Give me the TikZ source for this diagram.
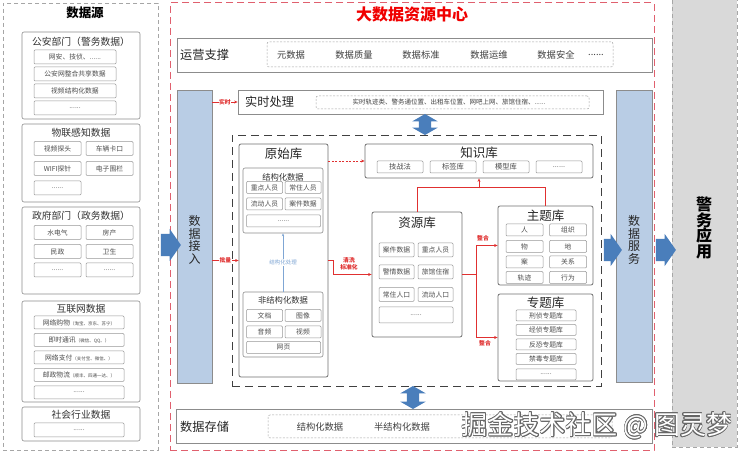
\documentclass[tikz,border=0pt]{standalone}
\usepackage{fontspec}
\setmainfont{Noto Sans CJK SC}
\usepackage[copies]{contour}
\contourlength{0.6pt}
\usetikzlibrary{shapes.arrows, arrows.meta, positioning, calc, fit}
\definecolor{boxG}{HTML}{8C8C8C}
\definecolor{panelG}{HTML}{A6A6A6}
\definecolor{appG}{HTML}{D9D9D9}
\definecolor{barB}{HTML}{B9CDE5}
\definecolor{arrB}{HTML}{4A7EBB}
\definecolor{redL}{HTML}{E03030}
\definecolor{redD}{HTML}{E0606E}
\definecolor{redT}{HTML}{F00000}
\definecolor{procB}{HTML}{7FA6D4}
\newcommand{\tinynote}[1]{{\fontsize{4.5}{5}\selectfont #1}}

\begin{document}
\begin{tikzpicture}[
  x=1pt, y=-1pt,
  panel/.style={draw=panelG, dashed, dash pattern=on 4pt off 3pt,
    line width=0.6pt, inner sep=0pt},
  grp/.style={draw=boxG, fill=white, rounded corners=2pt,
    line width=0.6pt, inner sep=0pt},
  grptitle/.style={font=\fontsize{9.8}{10}\selectfont, text=black!80, inner sep=0pt},
  item/.style={draw=boxG!90, fill=white, rounded corners=1pt, line width=0.5pt,
    minimum height=#1, inner sep=0pt,
    font=\fontsize{6.8}{7}\selectfont, text=black!70},
  item/.default=14pt,
  rowbox/.style={draw=boxG, line width=0.8pt, inner sep=0pt},
  innerdash/.style={draw=boxG!80, dashed, dash pattern=on 2pt off 1.5pt,
    rounded corners=2pt, line width=0.5pt, inner sep=0pt},
  rowlabel/.style={font=\fontsize{12.2}{12}\selectfont, anchor=west,
    inner sep=0pt, text=black!85},
  opitem/.style={font=\fontsize{9.3}{10}\selectfont, text=black!75, inner sep=0pt},
  bar/.style={draw=boxG, fill=barB, line width=0.6pt, inner sep=0pt},
  vtext/.style={align=center, font=\fontsize{12}{12.5}\selectfont,
    text=black!85, inner sep=0pt},
  bigarr/.style={single arrow, fill=arrB, draw=none, inner xsep=0pt,
    inner ysep=11pt, minimum height=20pt, single arrow head extend=5pt,
    single arrow tip angle=110},
  dblarr/.style={double arrow, fill=arrB, draw=none, inner xsep=0pt,
    inner ysep=6pt, minimum height=22pt, double arrow head extend=6.5pt,
    double arrow tip angle=120, rotate=90},
  lib/.style={draw=boxG!80!black, fill=white, rounded corners=2pt,
    line width=0.8pt, inner sep=0pt},
  libtitle/.style={font=\fontsize{12.5}{13}\selectfont, text=black!85, inner sep=0pt},
  subtitle/.style={font=\fontsize{8.3}{9}\selectfont, text=black!80, inner sep=0pt},
  redarr/.style={-{Stealth[length=3.5pt, width=3pt]}, redL, line width=0.6pt},
  redline/.style={redL, line width=0.6pt},
  redlbl/.style={text=redL, font=\fontsize{5.8}{6.5}\selectfont\bfseries,
    inner sep=0.6pt, fill=white, align=center}
]
\useasboundingbox[fill=white] (0,0) rectangle (740,454);

%% ═══ 数据源 ═══
\node[panel, fit={(3,3) (158,450)}] (src) {};
\node[font=\fontsize{12.5}{13}\selectfont\bfseries, inner sep=0pt] (srcT) at (85,13) {数据源};

\node[grp, fit={(22,32) (140,119)}] (gaGrp) {};
\node[grptitle] (gaT) at (81,42) {公安部门（警务数据）};
\node[item, minimum width=82pt] (ga1) at (75,57) {网安、技侦、......};
\node[item, minimum width=82pt, below=2.5pt of ga1] (ga2) {公安网整合共享数据};
\node[item, minimum width=82pt, below=2.5pt of ga2] (ga3) {视频结构化数据};
\node[item, minimum width=82pt, below=2.5pt of ga3] (ga4) {......};

\node[grp, fit={(22,124) (140,202)}] (iotGrp) {};
\node[grptitle] (iotT) at (81,133) {物联感知数据};
\node[item, minimum width=47pt] (iot1) at (57.5,148.5) {视频探头};
\node[item, minimum width=47pt, right=4.5pt of iot1] (iot2) {车辆卡口};
\node[item, minimum width=47pt, below=5.5pt of iot1] (iot3) {WIFI探针};
\node[item, minimum width=47pt, right=4.5pt of iot3] (iot4) {电子围栏};
\node[item, minimum width=47pt, below=5pt of iot3] (iot5) {......};

\node[grp, fit={(22,207) (140,294)}] (govGrp) {};
\node[grptitle] (govT) at (81,216) {政府部门（政务数据）};
\node[item, minimum width=47pt] (gov1) at (57.5,232.5) {水电气};
\node[item, minimum width=47pt, right=4.5pt of gov1] (gov2) {房产};
\node[item, minimum width=47pt, below=4.5pt of gov1] (gov3) {民政};
\node[item, minimum width=47pt, right=4.5pt of gov3] (gov4) {卫生};
\node[item, minimum width=47pt, below=4pt of gov3] (gov5) {......};
\node[item, minimum width=47pt, right=4.5pt of gov5] (gov6) {......};

\node[grp, fit={(22,301) (140,402)}] (netGrp) {};
\node[grptitle] (netT) at (81,309) {互联网数据};
\node[item=13pt, minimum width=90pt] (net1) at (79,322.5) {网络购物\tinynote{（淘宝、京东、苏宁）}};
\node[item=13pt, minimum width=90pt, below=4pt of net1] (net2) {即时通讯\tinynote{（微信、QQ、）}};
\node[item=13pt, minimum width=90pt, below=4pt of net2] (net3) {网络支付\tinynote{（支付宝、微信、）}};
\node[item=13pt, minimum width=90pt, below=4pt of net3] (net4) {邮政物流\tinynote{（顺丰、四通一达、）}};
\node[item=13pt, minimum width=90pt, below=4pt of net4] (net5) {......};

\node[grp, fit={(22,407) (140,441)}] (socGrp) {};
\node[grptitle] (socT) at (81,415) {社会行业数据};
\node[item, minimum width=90pt] (soc1) at (79,430) {......};

%% ═══ 警务应用 ═══
\node[fill=appG, draw=panelG, dashed, dash pattern=on 4pt off 3pt,
  line width=0.6pt, inner sep=0pt, fit={(672,-2) (737,447)}] (app) {};
\node[font=\fontsize{16}{15.5}\selectfont\bfseries, align=center, inner sep=0pt]
  (appT) at (704,228) {警\\务\\应\\用};

%% ═══ 大数据资源中心 ═══
\node[draw=redD, dashed, dash pattern=on 7pt off 4pt, line width=1pt,
  inner sep=0pt, fit={(170,3) (654,451)}] (center) {};
\node[font=\fontsize{16}{16}\selectfont\bfseries, text=redT, inner sep=0pt]
  (centerT) at (412,14) {大数据资源中心};

% 运营支撑
\node[rowbox, fit={(177,38) (652,72)}] (ops) {};
\node[rowlabel] (opsL) at (180,55) {运营支撑};
\node[innerdash, fit={(267,42) (613,67)}] (opsIn) {};
\node[opitem] (op1) at (291,55) {元数据};
\node[opitem] (op2) at (354,55) {数据质量};
\node[opitem] (op3) at (421,55) {数据标准};
\node[opitem] (op4) at (489,55) {数据运维};
\node[opitem] (op5) at (556,55) {数据安全};
\node[opitem] (op6) at (596,55) {......};

% 数据接入 / 数据服务
\node[bar, fit={(177,90) (212,383)}] (jieru) {};
\node[vtext] (jieruT) at (194.5,240) {数\\据\\接\\入};
\node[bar, fit={(616,90) (652,382)}] (fuwu) {};
\node[vtext] (fuwuT) at (634,240) {数\\据\\服\\务};

% 实时处理
\node[rowbox, fit={(238,90) (603,114)}] (rt) {};
\node[rowlabel] (rtL) at (245,102) {实时处理};
\node[innerdash, fit={(316,96) (589,109)}] (rtIn) {};
\node[font=\fontsize{6.5}{7}\selectfont, text=black!75, inner sep=0pt]
  (rtTxt) at (449,102.5) {实时轨迹类、警务通位置、出租车位置、网吧上网、旅馆住宿、......};

% 数据存储
\node[rowbox, fit={(176,409) (652,443)}] (store) {};
\node[rowlabel] (storeL) at (180,427) {数据存储};
\node[innerdash, fit={(268,415) (612,438)}] (storeIn) {};
\node[opitem] (st1) at (320,427) {结构化数据};
\node[opitem] (st2) at (402,427) {半结构化数据};

%% ═══ 数据仓库 ═══
\node[draw=black!75, dashed, dash pattern=on 8pt off 5pt, line width=0.9pt,
  inner sep=0pt, fit={(232,135) (601,386)}] (core) {};

\node[dblarr, minimum height=21pt] (ud1) at (425,124.5) {};
\node[dblarr, minimum height=23pt] (ud2) at (413,397.5) {};

\node[bigarr] (inArr) at (167,245) {};
\node[bigarr, minimum height=18pt] (svcArr) at (609,250) {};
\node[bigarr] (appArr) at (662,250) {};

% 原始库
\node[lib, fit={(239,144) (328,377)}] (yuan) {};
\node[libtitle] (yuanT) at (283.5,154) {原始库};
\node[grp, fit={(243,168) (323,233)}] (jgh) {};
\node[subtitle] (jghT) at (283,177) {结构化数据};
\node[item=12pt, minimum width=36pt] (j1) at (264.5,187.5) {重点人员};
\node[item=12pt, minimum width=36pt, right=2pt of j1] (j2) {常住人员};
\node[item=12pt, minimum width=36pt, below=4pt of j1] (j3) {流动人员};
\node[item=12pt, minimum width=36pt, right=2pt of j3] (j4) {案件数据};
\node[item=12pt, minimum width=74pt] (j5) at (283.5,221) {......};

\node[grp, fit={(243,292) (323,357)}] (fjg) {};
\node[subtitle] (fjgT) at (283,300) {非结构化数据};
\node[item=12pt, minimum width=36pt] (f1) at (264.5,315.5) {文档};
\node[item=12pt, minimum width=36pt, right=2pt of f1] (f2) {图像};
\node[item=12pt, minimum width=36pt, below=4pt of f1] (f3) {音频};
\node[item=12pt, minimum width=36pt, right=2pt of f3] (f4) {视频};
\node[item=12pt, minimum width=74pt] (f5) at (283.5,347.5) {网页};

\draw[-{Stealth[length=3pt]}, procB, line width=0.6pt] (fjg.north)
  -- node[fill=white, text=procB, font=\fontsize{5.5}{6}\selectfont, inner sep=0.5pt]
  (procL) {结构化处理} (jgh.south);

% 知识库
\node[lib, fit={(365,144) (593,178)}] (zhi) {};
\node[libtitle] (zhiT) at (479,153) {知识库};
\node[item=12pt, minimum width=46pt, font=\fontsize{7.3}{8}\selectfont] (k1) at (400,167) {技战法};
\node[item=12pt, minimum width=46pt, font=\fontsize{7.3}{8}\selectfont, right=6.5pt of k1] (k2) {标签库};
\node[item=12pt, minimum width=46pt, font=\fontsize{7.3}{8}\selectfont, right=6.5pt of k2] (k3) {模型库};
\node[item=12pt, minimum width=46pt, font=\fontsize{7.3}{8}\selectfont, right=6.5pt of k3] (k4) {......};

% 资源库
\node[lib, fit={(372,212) (462,337)}] (ziyuan) {};
\node[libtitle] (ziyuanT) at (417,223) {资源库};
\node[item, minimum width=35pt] (z1) at (396.5,250) {案件数据};
\node[item, minimum width=35pt, right=3.5pt of z1] (z2) {重点人员};
\node[item, minimum width=35pt, below=7.5pt of z1] (z3) {警情数据};
\node[item, minimum width=35pt, right=3.5pt of z3] (z4) {旅馆住宿};
\node[item, minimum width=35pt, below=8pt of z3] (z5) {常住人口};
\node[item, minimum width=35pt, right=3.5pt of z5] (z6) {流动人口};
\node[item=16pt, minimum width=74pt] (z7) at (416,315) {......};

% 主题库
\node[lib, fit={(498,206) (593,285)}] (zhuti) {};
\node[libtitle] (zhutiT) at (545.5,216) {主题库};
\node[item=12pt, minimum width=37pt] (t1) at (524.5,230) {人};
\node[item=12pt, minimum width=37pt, right=6pt of t1] (t2) {组织};
\node[item=12pt, minimum width=37pt, below=4pt of t1] (t3) {物};
\node[item=12pt, minimum width=37pt, right=6pt of t3] (t4) {地};
\node[item=12pt, minimum width=37pt, below=3pt of t3] (t5) {案};
\node[item=12pt, minimum width=37pt, right=6pt of t5] (t6) {关系};
\node[item=12pt, minimum width=37pt, below=3pt of t5] (t7) {轨迹};
\node[item=12pt, minimum width=37pt, right=6pt of t7] (t8) {行为};

% 专题库
\node[lib, fit={(498,294) (593,381)}] (zhuanti) {};
\node[libtitle] (zhuantiT) at (545.5,303) {专题库};
\node[item=11pt, minimum width=60pt] (s1) at (546,315.5) {刑侦专题库};
\node[item=11pt, minimum width=60pt, below=3pt of s1] (s2) {经侦专题库};
\node[item=11pt, minimum width=60pt, below=3pt of s2] (s3) {反恐专题库};
\node[item=11pt, minimum width=60pt, below=3pt of s3] (s4) {禁毒专题库};
\node[item=11pt, minimum width=60pt, below=4pt of s4] (s5) {......};

%% ═══ 数据流向 ═══
\draw[redarr] (rt.west -| jieru.east) -- node[redlbl] (lblRt) {实时} (rt.west);
\draw[redarr] (yuan.west -| jieru.east) -- node[redlbl] (lblPl) {批量} (yuan.west);
\draw[redarr, dashed, dash pattern=on 2pt off 1.5pt] (zhi.west -| yuan.east) -- (zhi.west);
\draw[redarr] (yuan.east) -- ++(5,0) |- (ziyuan.west);
\node[redlbl, fill=none] (lblQx) at (349,264) {清洗\\标准化};
\draw[redline] (ziyuan.east) -- ++(14,0) coordinate (zhJ);
\draw[redarr] (zhJ) |- (zhuti.west);
\draw[redarr] (zhJ) |- (zhuanti.west);
\node[redlbl] (lblZh1) at (483,238) {整合};
\node[redlbl] (lblZh2) at (485,343) {整合};
\draw[redline] (ziyuan.north) |- ($(zhuti.north)+(0,-18)$) -- (zhuti.north);
\draw[redarr] ($(zhi.south)+(0,10)$) -- (zhi.south);

% 水印
\node[font=\fontsize{26}{26}\selectfont, inner sep=0pt] (wm) at (597,426)
  {\contour{black!60}{\textcolor{white}{掘金技术社区 @ 图灵梦}}};

\end{tikzpicture}
\end{document}
